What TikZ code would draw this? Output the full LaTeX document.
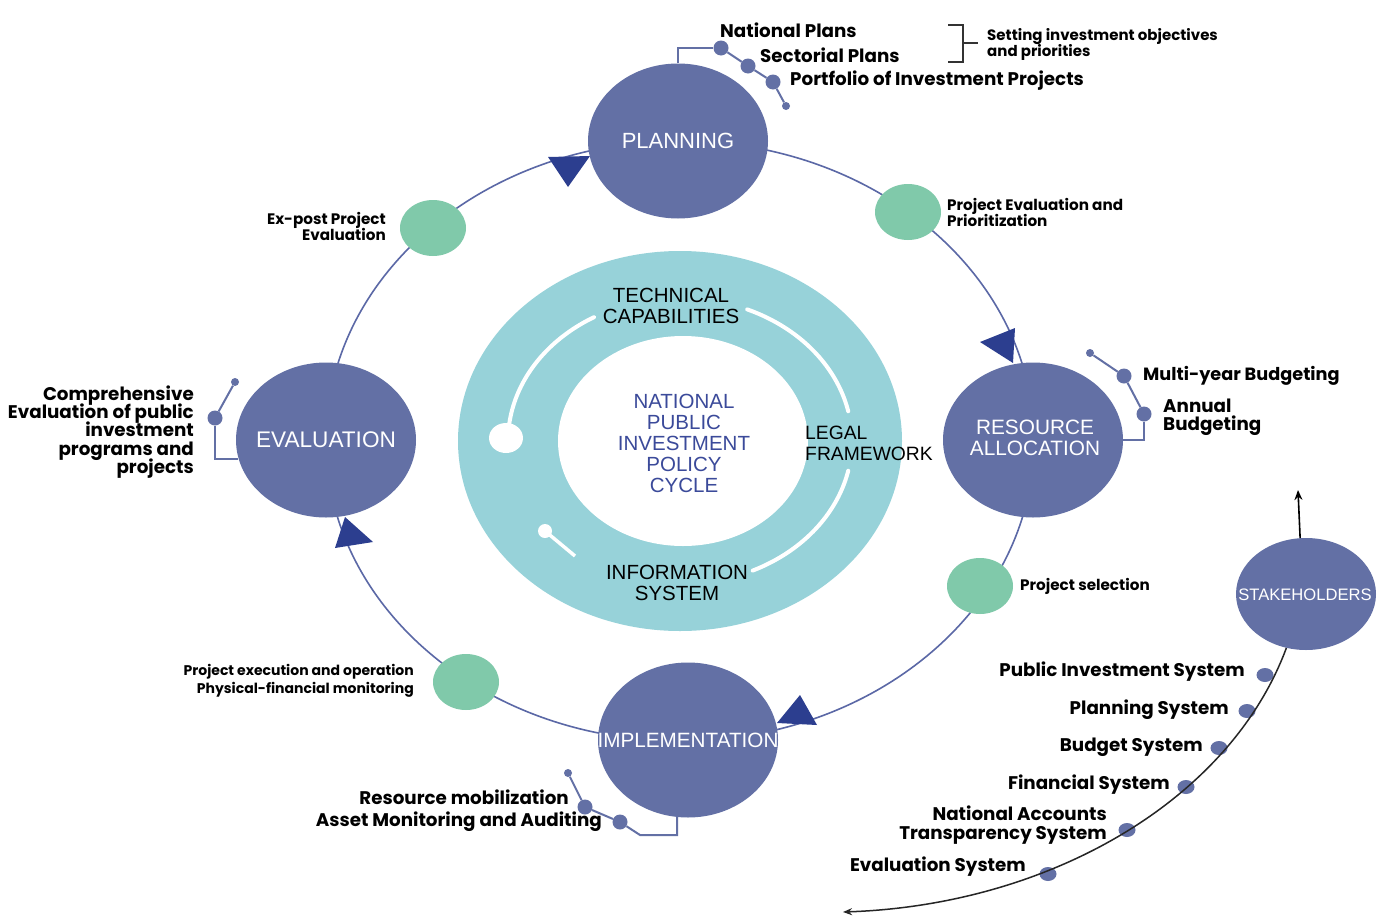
\documentclass[tikz,border=0pt]{standalone}
\usepackage{fontspec}
\setmainfont{Liberation Sans}
\newfontfamily\pop{Poppins}
\usetikzlibrary{shapes.geometric,arrows.meta}
\definecolor{nodeblue}{HTML}{6370A5}
\definecolor{greenc}{HTML}{80C9AA}
\definecolor{ringc}{HTML}{97D2D9}
\definecolor{navy}{HTML}{2C3E8F}
\definecolor{linec}{HTML}{5B68A6}
\definecolor{centc}{HTML}{3B4A9A}
\newcommand{\tightls}{\setlength{\lineskiplimit}{-30pt}}
\begin{document}
\begin{tikzpicture}[x=1pt,y=-1pt,
  big/.style={ellipse, fill=nodeblue, draw=none, minimum width=180pt, minimum height=155pt, inner sep=0pt},
  stk/.style={ellipse, fill=nodeblue, draw=none, minimum width=140pt, minimum height=112pt, inner sep=0pt},
  grn/.style={ellipse, fill=greenc, draw=none, minimum width=66pt, minimum height=56pt, inner sep=0pt},
  bigtext/.style={text=white, font=\fontsize{21}{21.5}\selectfont, align=center, inner sep=0pt},
  ctext/.style={font=\fontsize{20.5}{21}\selectfont, align=center, inner sep=0pt},
  lab/.style={font=\pop\bfseries\fontsize{18.3}{18.3}\selectfont\tightls, inner sep=0pt, text=black},
  slab/.style={font=\pop\bfseries\fontsize{15.2}{16}\selectfont\tightls, inner sep=0pt, text=black},
  dotb/.style={circle, fill=nodeblue, minimum size=15pt, inner sep=0pt},
  dots/.style={circle, fill=nodeblue, minimum size=8pt, inner sep=0pt},
  sdot/.style={ellipse, fill=nodeblue, minimum width=17pt, minimum height=14pt, inner sep=0pt},
  deco/.style={draw=nodeblue, line width=2pt},
  cyc/.style={draw=linec, line width=1.6pt},
  warc/.style={draw=white, line width=4pt, line cap=round}]
\useasboundingbox (0,0) rectangle (1382,924);
\fill[white] (0,0) rectangle (1382,924);

% central ring
\fill[ringc] (680,441) ellipse [x radius=222, y radius=190];
\fill[white] (683,441) ellipse [x radius=125, y radius=105];
\draw[warc] plot[domain=186:240, samples=40] ({680+172*cos(\x)},{441+143*sin(\x)});
\draw[warc] plot[domain=-67:-12, samples=40] ({680+172*cos(\x)},{441+143*sin(\x)});
\draw[warc] plot[domain=12:65, samples=40] ({680+172*cos(\x)},{441+143*sin(\x)});
\fill[white] (506,438) ellipse [x radius=17, y radius=15];
\fill[white] (545,531) circle [radius=7];
\draw[draw=white, line width=3.5pt] (545,531) -- (575,556);

\node[ctext] (tech) at (671,306) {TECHNICAL\\CAPABILITIES};
\node[ctext, text=centc] (npic) at (684,443) {NATIONAL\\PUBLIC\\INVESTMENT\\POLICY\\CYCLE};
\node[ctext, anchor=west, align=left, font=\fontsize{19.3}{21}\selectfont] (legal) at (805,443) {LEGAL\\FRAMEWORK};
\node[ctext] (info) at (677,583) {INFORMATION\\SYSTEM};

% cycle
\draw[cyc] (680,441) ellipse [x radius=354, y radius=300];
\fill[navy] (548,157) -- (590,156) -- (568,187) -- cycle;
\fill[navy] (980,342) -- (1015,328) -- (1013,363) -- cycle;
\fill[navy] (800,695) -- (777,723) -- (817,725) -- cycle;
\fill[navy] (345,517) -- (335,548) -- (373,542) -- cycle;

% main nodes
\node[big] (plan) at (678,141) {};
\node[big] (ra) at (1033,440) {};
\node[big] (impl) at (688,740) {};
\node[big] (eval) at (326,440) {};
\node[bigtext, font=\fontsize{22}{22}\selectfont] at (plan) {PLANNING};
\node[bigtext, font=\fontsize{20.8}{21.5}\selectfont] at (1035,438) {RESOURCE\\ALLOCATION};
\node[bigtext, font=\fontsize{20.7}{21}\selectfont] at (impl) {IMPLEMENTATION};
\node[bigtext, font=\fontsize{22.6}{23}\selectfont] at (eval) {EVALUATION};

\node[grn] (g1) at (908,212) {};
\node[grn] (g2) at (980,586) {};
\node[grn] (g3) at (466,682) {};
\node[grn] (g4) at (433,228) {};

% planning decorations
\node[dotb] (p1) at (721,48) {};
\node[dotb] (p2) at (748,66) {};
\node[dotb] (p3) at (773,82) {};
\node[dots] (p4) at (786,106) {};
\draw[deco] (plan.north) |- (p1);
\draw[deco] (p1) -- (p2) -- (p3) -- (p4);
\node[lab, anchor=west] (np) at (720,30) {National Plans};
\node[lab, anchor=west] (sp) at (760,55) {Sectorial Plans};
\node[lab, anchor=west] (pip) at (790,81) {Portfolio of Investment Projects};
\draw[draw=black!80, line width=1.3pt] (948,25) -- (963,25) -- (963,62) -- (948,62);
\draw[draw=black!80, line width=1.3pt] (963,43) -- (978,43);
\node[slab, anchor=west, align=left, font=\pop\bfseries\fontsize{15}{16}\selectfont\tightls] (sio) at (987,44) {Setting investment objectives\\and priorities};

% RA decorations
\node[dots] (r0) at (1090,353) {};
\node[dotb] (r1) at (1124,376) {};
\node[dotb] (r2) at (1144,414) {};
\draw[deco] (r0) -- (r1) -- (r2);
\draw[deco] (r2) |- (ra.east);
\node[lab, anchor=west, font=\pop\bfseries\fontsize{17.7}{18}\selectfont] (myb) at (1143,376) {Multi-year Budgeting};
\node[lab, anchor=west, align=left] (ab) at (1163,417) {Annual\\Budgeting};

% evaluation decorations
\node[dots] (e0) at (235,382) {};
\node[dotb] (e1) at (215,418) {};
\draw[deco] (e0) -- (e1);
\draw[deco] (e1) |- (eval.192);
\node[lab, anchor=east, align=right] (ce) at (194,432) {Comprehensive\\Evaluation of public\\investment\\programs and\\projects};

% implementation decorations
\node[dots] (i0) at (568,773) {};
\node[dotb] (i1) at (585,807) {};
\node[dotb] (i2) at (620,822) {};
\draw[deco] (i0) -- (i1) -- (i2);
\draw[deco] (i2) -- (640,835) -| (impl.262);
\node[lab, anchor=east] (rm) at (569,797) {Resource mobilization};
\node[lab, anchor=east] (ama) at (602,822) {Asset Monitoring and Auditing};

% green labels
\node[slab, anchor=west, align=left] (pep) at (947,212) {Project Evaluation and\\Prioritization};
\node[slab, anchor=west] (ps) at (1020,586) {Project selection};
\node[slab, anchor=east, align=right, font=\pop\bfseries\fontsize{14}{18}\selectfont\tightls] (peo) at (414,681) {Project execution and operation\\Physical-financial monitoring};
\node[slab, anchor=east, align=right] (epe) at (386,226) {Ex-post Project\\Evaluation};

% stakeholders
\node[stk] (stake) at (1306,594) {};
\node[text=white, font=\fontsize{16.6}{17}\selectfont, inner sep=0pt] at (1305,595) {STAKEHOLDERS};
\coordinate (sup) at (1298,490);
\coordinate (send) at (843,912);
\draw[black, line width=1.6pt, -{Stealth[length=10pt,width=8pt]}] (stake.96) -- (sup);
\node[sdot] (s1) at (1265,675) {};
\node[sdot] (s2) at (1247,711) {};
\node[sdot] (s3) at (1219,748) {};
\node[sdot] (s4) at (1186,787) {};
\node[sdot] (s5) at (1127,830) {};
\node[sdot] (s6) at (1048,874) {};
\draw[black!85, line width=1.5pt, -{Stealth[length=9pt,width=7pt]}] (stake.250) .. controls (1230,800) and (1050,905) .. (send);
\node[lab, anchor=east] (pis) at (1245,672) {Public Investment System};
\node[lab, anchor=east] (pls) at (1229,710) {Planning System};
\node[lab, anchor=east] (bs) at (1203,747) {Budget System};
\node[lab, anchor=east] (fs) at (1170,785) {Financial System};
\node[lab, anchor=east, align=right] (nat) at (1107,825) {National Accounts\\Transparency System};
\node[lab, anchor=east] (evs) at (1026,867) {Evaluation System};
\end{tikzpicture}
\end{document}
